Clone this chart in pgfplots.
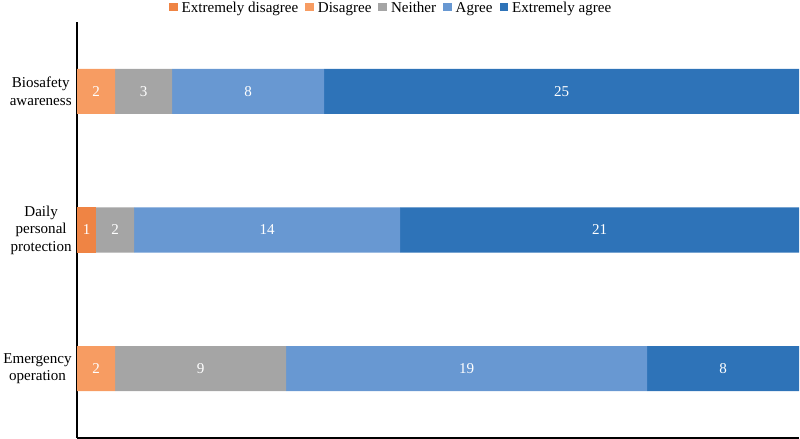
\documentclass[border=0pt]{standalone}
\usepackage{pgfplots}
\pgfplotsset{compat=1.18}
\usepackage{fontspec}
\setmainfont{Liberation Serif}
\definecolor{cED}{HTML}{EF8444}
\definecolor{cD}{HTML}{F79C62}
\definecolor{cN}{HTML}{A5A5A5}
\definecolor{cA}{HTML}{6898D2}
\definecolor{cEA}{HTML}{2E73B8}
\begin{document}
\begin{tikzpicture}
\pgfplotsset{common/.style={
  scale only axis, width=719pt, height=414pt,
  xmin=0, xmax=38, ymin=-0.5, ymax=2.5}}
\begin{axis}[common,
  xbar stacked, bar width=0.325,
  axis x line*=bottom, axis y line*=left,
  axis line style={line width=2pt},
  xtick=\empty, ytick={0,1,2},
  yticklabels={{Emergency\\operation},{Daily\\personal\\protection},{Biosafety\\awareness}},
  major tick length=0pt,
  yticklabel style={align=center, font=\fontsize{15}{17.5}\selectfont, xshift=-2pt},
  legend columns=-1,
  legend style={at={(0.435,1)}, anchor=south, yshift=6pt, draw=none,
    font=\fontsize{15}{16}\selectfont, inner sep=0pt,
    /tikz/every even column/.append style={column sep=5pt},
    /tikz/every odd column/.append style={column sep=2pt}},
  legend image code/.code={\fill[#1] (0pt,-3.5pt) rectangle (8.5pt,5pt);},
]
\addplot[fill=cED, draw=none] coordinates {(0,0) (1,1) (0,2)};
\addplot[fill=cD, draw=none] coordinates {(2,0) (0,1) (2,2)};
\addplot[fill=cN, draw=none] coordinates {(9,0) (2,1) (3,2)};
\addplot[fill=cA, draw=none] coordinates {(19,0) (14,1) (8,2)};
\addplot[fill=cEA, draw=none] coordinates {(8,0) (21,1) (25,2)};
\legend{Extremely disagree, Disagree, Neither, Agree, Extremely agree}
\end{axis}
\begin{axis}[common, hide axis]
\addplot[draw=none, mark=none, nodes near coords, point meta=explicit symbolic,
  nodes near coords style={anchor=center, text=white, font=\fontsize{15}{17}\selectfont}]
  table[meta=l] {
x y l
1 2 2
3.5 2 3
9 2 8
25.5 2 25
0.5 1 1
2 1 2
10 1 14
27.5 1 21
1 0 2
6.5 0 9
20.5 0 19
34 0 8
};
\end{axis}
\end{tikzpicture}
\end{document}
